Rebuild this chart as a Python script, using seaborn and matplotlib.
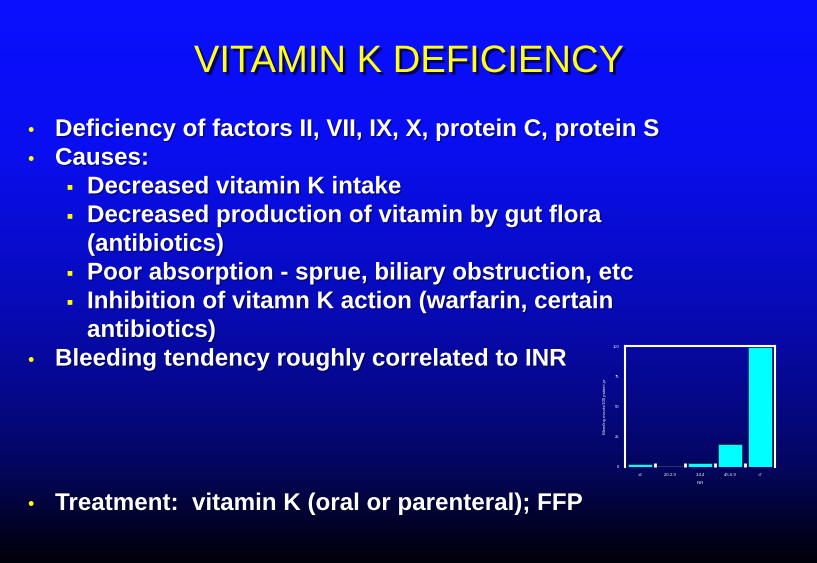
import numpy as np
import matplotlib
matplotlib.use("Agg")
import matplotlib.pyplot as plt
import matplotlib.patheffects as pe
import pandas as pd
import seaborn as sns

# chart data
inr_groups = ["<2", "2.0-2.9", "3-4.4", "4.5-6.9", ">7"]
bleed_rates = [2.8, 1.2, 3.6, 19.3, 99.0]
y_ticks = [0, 25, 50, 75, 100]

title = "VITAMIN K DEFICIENCY"
lines = [
    # (level, text, bullet shown)
    (0, "Deficiency of factors II, VII, IX, X, protein C, protein S", True),
    (0, "Causes:", True),
    (1, "Decreased vitamin K intake", True),
    (1, "Decreased production of vitamin by gut flora", True),
    (1, "(antibiotics)", False),
    (1, "Poor absorption - sprue, biliary obstruction, etc", True),
    (1, "Inhibition of vitamn K action (warfarin, certain", True),
    (1, "antibiotics)", False),
    (0, "Bleeding tendency roughly correlated to INR", True),
]
treatment = "Treatment:  vitamin K (oral or parenteral); FFP"

sns.set_theme(style="white")
plt.rcParams["font.family"] = ["Liberation Sans", "DejaVu Sans"]

W, H = 817, 563
fig = plt.figure(figsize=(W / 100, H / 100), dpi=100)

# background gradient, bright blue at top fading to black
bg = fig.add_axes([0, 0, 1, 1])
ys = np.array([0, 150, 300, 400, 467, 530, 563]) / H
blues = np.array([255, 240, 185, 135, 95, 35, 10]) / 255
col = np.interp(np.linspace(0, 1, 400), ys, blues)
img = np.zeros((400, 1, 3))
img[:, 0, 2] = col
img[:, 0, 1] = col * 0.06
img[:, 0, 0] = col * 0.04
bg.imshow(img, aspect="auto", extent=[0, 1, 0, 1], origin="upper")
bg.set_xlim(0, 1)
bg.set_ylim(0, 1)
bg.axis("off")


def fx(px):
    return px / W


def fy(py):
    return 1 - py / H


shadow = [pe.withSimplePatchShadow(offset=(2, -2), shadow_rgbFace="#000033", alpha=0.8)]
fig.text(fx(409), fy(72), title, color="#ffff1a", fontsize=27.5, ha="center",
         va="baseline", path_effects=shadow)

txt_shadow = [pe.withSimplePatchShadow(offset=(1, -1), shadow_rgbFace="#000022", alpha=0.5)]
body = dict(color="white", fontsize=17.4, fontweight="bold", va="baseline",
            path_effects=txt_shadow)
y0, dy = 136, 28.7
for i, (lvl, txt, has_bullet) in enumerate(lines):
    yy = fy(y0 + i * dy)
    if lvl == 0:
        fig.text(fx(27), yy, "\u2022", color="#ffff00", fontsize=13, va="baseline")
        fig.text(fx(55), yy, txt, **body)
    else:
        if has_bullet:
            fig.text(fx(66), fy(y0 + i * dy - 4), "\u25a0", color="#ffff00",
                     fontsize=7, va="baseline")
        fig.text(fx(87), yy, txt, **body)

fig.text(fx(27), fy(510), "\u2022", color="#ffff00", fontsize=13, va="baseline")
fig.text(fx(55), fy(510), treatment, **body)

# small bar chart inset
ax = fig.add_axes([fx(625), fy(467), fx(150), 121 / H])
df = pd.DataFrame({"INR": inr_groups, "rate": bleed_rates})
sns.barplot(data=df, x="INR", y="rate", color="#00ffff", saturation=1,
            width=0.8, edgecolor="#203050", linewidth=0.6, ax=ax)
ax.set_facecolor("none")
ax.set_xlim(-0.5, 4.5)
ax.set_ylim(0, 100)
ax.set_yticks(y_ticks)
ax.set_yticklabels(y_ticks, fontsize=3, color="white")
ax.set_xticks(range(len(inr_groups)))
ax.set_xticklabels(inr_groups, fontsize=3, color="white")
ax.set_xticks(np.arange(0.5, 4.0, 1.0), minor=True)
ax.tick_params(axis="x", which="minor", direction="in", length=3, width=2,
               color="white", bottom=True)
ax.set_xlabel("INR", fontsize=3, color="white", labelpad=3)
ax.set_ylabel("Bleeding events/100 patient-yr", fontsize=3, color="white", labelpad=4)
ax.tick_params(which="major", length=0, pad=4)
for side in ["left", "top", "right"]:
    ax.spines[side].set_color("white")
    ax.spines[side].set_linewidth(1.5)
ax.spines["bottom"].set_visible(False)

fig.savefig("out.png", dpi=100)
